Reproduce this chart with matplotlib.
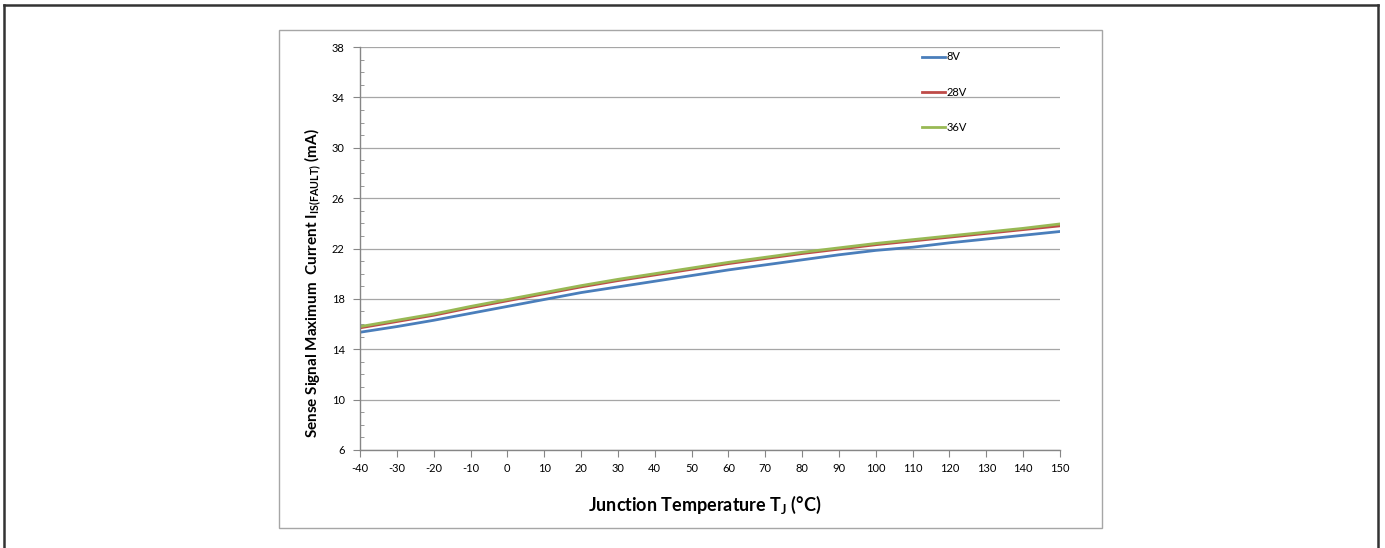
import matplotlib
matplotlib.use('Agg')
import matplotlib.pyplot as plt
from matplotlib.patches import Rectangle
from matplotlib.lines import Line2D

plt.rcParams['font.family'] = ['Lato', 'DejaVu Sans']
plt.rcParams['mathtext.fontset'] = 'custom'
plt.rcParams['mathtext.rm'] = 'Lato'
plt.rcParams['mathtext.bf'] = 'Lato:bold'
plt.rcParams['axes.unicode_minus'] = False

# Junction temperature (°C)
temp = [-40, -30, -20, -10, 0, 10, 20, 30, 40, 50, 60, 70, 80, 90, 100, 110, 120, 130, 140, 150]

# Sense signal max current (mA) per supply voltage
i_8v = [15.35, 15.8, 16.3, 16.85, 17.4, 17.95, 18.5, 18.95, 19.4, 19.85,
        20.3, 20.7, 21.1, 21.5, 21.85, 22.1, 22.45, 22.75, 23.05, 23.35]
i_28v = [15.7, 16.2, 16.7, 17.3, 17.85, 18.4, 18.95, 19.45, 19.9, 20.35,
         20.8, 21.2, 21.6, 21.95, 22.3, 22.6, 22.9, 23.2, 23.5, 23.8]
i_36v = [15.8, 16.3, 16.8, 17.4, 17.95, 18.5, 19.05, 19.55, 20.0, 20.45,
         20.9, 21.3, 21.7, 22.05, 22.4, 22.7, 23.0, 23.3, 23.6, 23.95]

series = [('8V', i_8v, '#4A7EBB'), ('28V', i_28v, '#BE4B48'), ('36V', i_36v, '#98B954')]

x_ticks = list(range(-40, 151, 10))
y_ticks = list(range(6, 39, 4))
y_minor = list(range(6, 39, 1))

W, H = 1385, 548
fig = plt.figure(figsize=(W / 100, H / 100), dpi=100)

# outer frame (top, left, right)
fig.add_artist(Line2D([4 / W, 1378 / W], [1 - 5 / H, 1 - 5 / H], color='#333333', lw=1.8))
fig.add_artist(Line2D([4 / W, 4 / W], [0, 1 - 5 / H], color='#333333', lw=1.8))
fig.add_artist(Line2D([1378 / W, 1378 / W], [0, 1 - 5 / H], color='#333333', lw=1.8))

# chart box
fig.add_artist(Rectangle((279 / W, 1 - 528 / H), (1102 - 279) / W, (528 - 30) / H,
                         fill=False, edgecolor='#a6a6a6', lw=1.0))

ax = fig.add_axes([360 / W, 1 - 450 / H, 700 / W, 403 / H])

for name, vals, col in series:
    ax.plot(temp, vals, color=col, lw=2.0, label=name)

ax.set_xlim(-40, 150)
ax.set_ylim(6, 38)
ax.set_xticks(x_ticks)
ax.set_yticks(y_ticks)
ax.set_yticks(y_minor, minor=True)
ax.grid(axis='y', which='major', color='#a6a6a6', lw=0.9)
ax.set_axisbelow(True)

for s in ['top', 'right']:
    ax.spines[s].set_visible(False)
for s in ['left', 'bottom']:
    ax.spines[s].set_color('#868686')
    ax.spines[s].set_linewidth(1.0)

ax.tick_params(axis='both', which='major', direction='out', length=5, color='#868686',
               labelsize=8, labelcolor='#000000')
ax.tick_params(axis='y', which='minor', direction='in', length=3, color='#868686')
ax.tick_params(axis='y', pad=6)
ax.tick_params(axis='x', pad=4)

leg = ax.legend(loc='upper left', bbox_to_anchor=(0.797, 1.0), frameon=False,
                handlelength=2.0, handletextpad=0.15, labelspacing=2.2, fontsize=8,
                borderaxespad=0)

fig.text(313 / W, 1 - 283 / H,
         r'Sense Signal Maximum  Current I$_{\mathbf{IS(FAULT)}}$ (mA)',
         rotation=90, ha='center', va='center', fontsize=11, fontweight='bold')
fig.text(705 / W, 1 - 505 / H, r'Junction Temperature T$_{\mathbf{J}}$ (°C)',
         ha='center', va='center', fontsize=13, fontweight='bold')

fig.savefig('out.png', dpi=100, facecolor='white')
